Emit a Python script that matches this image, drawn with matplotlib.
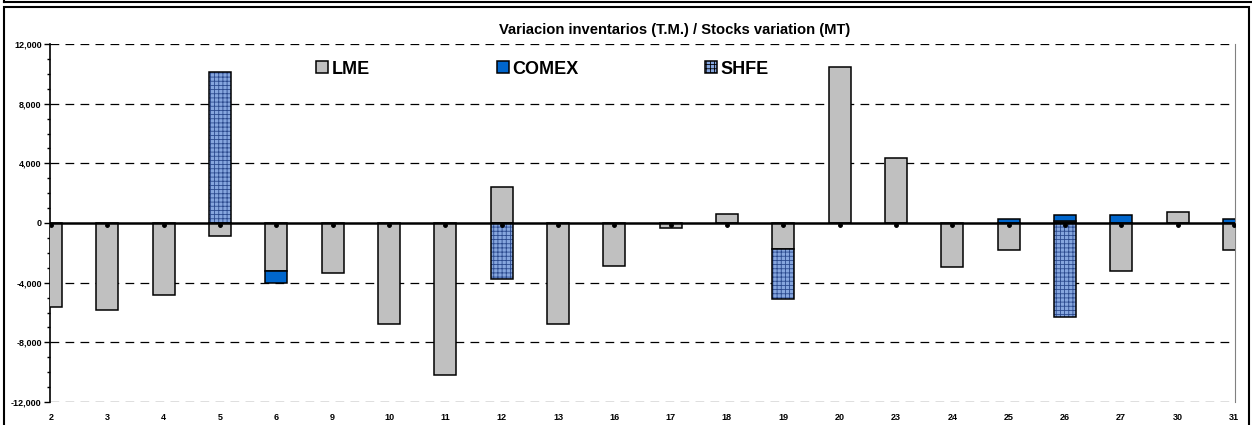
import matplotlib
matplotlib.use("Agg")
from matplotlib import pyplot as plt
from matplotlib.patches import Patch, Rectangle
from matplotlib.lines import Line2D
from matplotlib.ticker import MultipleLocator, FuncFormatter
import numpy as np

plt.rcParams["font.family"] = ["Liberation Sans", "DejaVu Sans"]
plt.rcParams["font.weight"] = "bold"
plt.rcParams["hatch.linewidth"] = 0.6

# Days of the month shown on the x axis
DAYS = ["2", "3", "4", "5", "6", "9", "10", "11", "12", "13", "16",
        "17", "18", "19", "20", "23", "24", "25", "26", "27", "30", "31"]

# Daily stock variation per exchange (MT)
LME = [-5650, -5800, -4850, -870, -3200, -3370, -6750, -10200, 2420, -6750,
       -2850, -350, 580, -1750, 10480, 4350, -2920, -1830, 150, -3220,
       730, -1830]
COMEX = [0, 0, 0, 0, -800, 0, 0, 0, 0, 0,
         0, 0, 0, 0, 0, 0, 0, 260, 400, 520,
         0, 260]
SHFE = [0, 0, 0, 10150, 0, 0, 0, 0, -3780, 0,
        0, 0, 0, -3360, 0, 0, 0, 0, -6280, 0,
        0, 0]

LME_COLOR = "#c0c0c0"
COMEX_COLOR = "#0066cc"
SHFE_COLOR = "#86a6de"
SHFE_HATCH_COLOR = "#2b4a8e"

fig = plt.figure(figsize=(12.52, 4.25), dpi=100)
ax = fig.add_axes([50 / 1252, 23 / 425, 1185 / 1252, 358 / 425])

x = np.arange(len(DAYS))
width = 0.39

pos_base = np.zeros(len(DAYS))
neg_base = np.zeros(len(DAYS))
for values, color in [(LME, LME_COLOR), (COMEX, COMEX_COLOR), (SHFE, SHFE_COLOR)]:
    values = np.array(values, dtype=float)
    bottoms = np.where(values >= 0, pos_base, neg_base)
    mask = values != 0
    if color == SHFE_COLOR:
        # textured fill, then a plain black outline on top
        ax.bar(x[mask], values[mask], width, bottom=bottoms[mask],
               color=color, hatch="++++", edgecolor=SHFE_HATCH_COLOR,
               linewidth=0, zorder=3)
        ax.bar(x[mask], values[mask], width, bottom=bottoms[mask],
               fill=False, edgecolor="black", linewidth=1.1, zorder=3)
    else:
        ax.bar(x[mask], values[mask], width, bottom=bottoms[mask],
               color=color, edgecolor="black", linewidth=1.1, zorder=3)
    pos_base = pos_base + np.where(values > 0, values, 0)
    neg_base = neg_base + np.where(values < 0, values, 0)

# zero line with small markers at each category
ax.axhline(0, color="black", linewidth=1.8, zorder=4)
ax.plot(x, [-120] * len(DAYS), "o", color="black", markersize=2.5, zorder=5)

ax.set_xlim(-0.02, len(DAYS) - 1 + 0.02)
ax.set_ylim(-12000, 12000)

ax.yaxis.set_major_locator(MultipleLocator(4000))
ax.yaxis.set_minor_locator(MultipleLocator(1000))
ax.yaxis.set_major_formatter(FuncFormatter(lambda v, p: f"{int(v):,}"))
for yv in [-12000, -8000, -4000, 4000, 8000, 12000]:
    ax.axhline(yv, color="black", linewidth=0.9, dashes=(7, 5), zorder=1)

ax.set_xticks(x)
ax.set_xticklabels(DAYS)
ax.tick_params(axis="x", length=0, pad=8, labelsize=6.5)
ax.tick_params(axis="y", which="major", length=4, width=1, labelsize=6.5, pad=2)
ax.tick_params(axis="y", which="minor", length=2.5, width=1)

ax.spines["top"].set_visible(False)
ax.spines["bottom"].set_visible(False)
ax.spines["right"].set_color("#808080")
ax.spines["left"].set_linewidth(1.2)

fig.text(675 / 1252, 1 - 30 / 425, "Variacion inventarios (T.M.) / Stocks variation (MT)",
         ha="center", va="center", fontsize=10.6, fontweight="bold")

handles = [Patch(facecolor=LME_COLOR, edgecolor="black", linewidth=1.1),
           Patch(facecolor=COMEX_COLOR, edgecolor="black", linewidth=1.1),
           Patch(facecolor=SHFE_COLOR, edgecolor="black", linewidth=1.1,
                 hatch="++++")]
fig.legend(handles, ["LME", "COMEX", "SHFE"], ncol=3, frameon=False,
           loc="center left", bbox_to_anchor=(316 / 1252, 1 - 69 / 425),
           prop={"size": 13, "weight": "bold"},
           handlelength=0.68, handleheight=0.68, handletextpad=0.2,
           columnspacing=7.0, borderpad=0, borderaxespad=0)

# outer frames
fig.add_artist(Line2D([4 / 1252, 1], [1 - 1.5 / 425] * 2, color="black",
                      linewidth=1.5, transform=fig.transFigure))
fig.add_artist(Line2D([4 / 1252] * 2, [1, 1 - 1.5 / 425], color="black",
                      linewidth=1.5, transform=fig.transFigure))
fig.add_artist(Rectangle((4 / 1252, -0.05), 1245 / 1252, 1.05 - 7 / 425,
                         fill=False, edgecolor="black", linewidth=1.5,
                         transform=fig.transFigure))

fig.savefig("out.png", dpi=100)
